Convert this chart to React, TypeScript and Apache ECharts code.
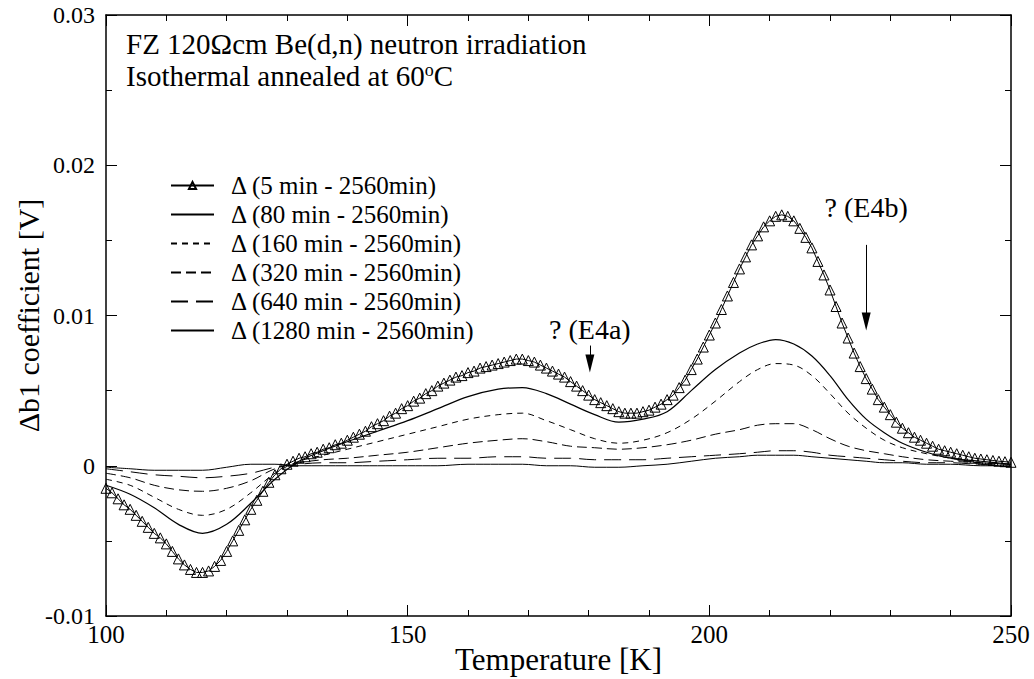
import React, { useEffect, useRef } from "react";
import * as echarts from "echarts";

// Temperature grid of the 5-min curve (triangles), K
const tempsTri = [
  100, 101, 102, 103, 104, 105, 106, 107, 108, 109, 110, 111, 112, 113, 114, 115, 116, 117, 118, 119,
  120, 121, 122, 123, 124, 125, 126, 127, 128, 129, 130, 131, 132, 133, 134, 135, 136, 137, 138, 139,
  140, 141, 142, 143, 144, 145, 146, 147, 148, 149, 150, 151, 152, 153, 154, 155, 156, 157, 158, 159,
  160, 161, 162, 163, 164, 165, 166, 167, 168, 169, 170, 171, 172, 173, 174, 175, 176, 177, 178, 179,
  180, 181, 182, 183, 184, 185, 186, 187, 188, 189, 190, 191, 192, 193, 194, 195, 196, 197, 198, 199,
  200, 201, 202, 203, 204, 205, 206, 207, 208, 209, 210, 211, 212, 213, 214, 215, 216, 217, 218, 219,
  220, 221, 222, 223, 224, 225, 226, 227, 228, 229, 230, 231, 232, 233, 234, 235, 236, 237, 238, 239,
  240, 241, 242, 243, 244, 245, 246, 247, 248, 249, 250,
];
// Δ (5 min - 2560min)
const d5 = [
  -0.0015, -0.0018, -0.0022, -0.0026, -0.0029, -0.0033, -0.0037, -0.0041, -0.0045, -0.0048,
  -0.0052, -0.0057, -0.0062, -0.0066, -0.0069, -0.0071, -0.0071, -0.007, -0.0067, -0.0063,
  -0.0057, -0.005, -0.0043, -0.0036, -0.0029, -0.0023, -0.0017, -0.0011, -0.0006, -0.0002,
  0.0001, 0.0003, 0.0005, 0.0006, 0.0008, 0.0009, 0.0011, 0.0012, 0.0014, 0.0015,
  0.0017, 0.0019, 0.0021, 0.0023, 0.0026, 0.0028, 0.003, 0.0033, 0.0035, 0.0038,
  0.004, 0.0043, 0.0045, 0.0048, 0.005, 0.0053, 0.0055, 0.0057, 0.0059, 0.006,
  0.0062, 0.0063, 0.0065, 0.0066, 0.0067, 0.0068, 0.0069, 0.007, 0.0071, 0.0071,
  0.007, 0.0069, 0.0067, 0.0065, 0.0063, 0.0061, 0.0059, 0.0056, 0.0053, 0.005,
  0.0047, 0.0044, 0.0042, 0.004, 0.0038, 0.0036, 0.0035, 0.0035, 0.0035, 0.0036,
  0.0037, 0.0039, 0.0041, 0.0044, 0.0047, 0.0052, 0.0057, 0.0064, 0.0071, 0.0079,
  0.0087, 0.0095, 0.0104, 0.0113, 0.0122, 0.0131, 0.0139, 0.0147, 0.0153, 0.0159,
  0.0163, 0.0166, 0.0167, 0.0166, 0.0163, 0.0158, 0.0152, 0.0145, 0.0136, 0.0127,
  0.0117, 0.0106, 0.0095, 0.0085, 0.0075, 0.0066, 0.0058, 0.0051, 0.0044, 0.0039,
  0.0034, 0.0029, 0.0025, 0.0022, 0.0019, 0.0017, 0.0015, 0.0013, 0.0011, 0.001,
  0.0009, 0.0008, 0.0007, 0.0006, 0.0005, 0.00045, 0.0004, 0.00035, 0.0003, 0.00027, 0.00023,
];

// Temperature grid of the line curves, K
const tempsLine = [
  100, 104, 108, 112, 116, 120, 124, 128, 132, 136, 140, 145, 150, 155, 160, 165, 169, 173, 177, 181,
  185, 189, 193, 197, 201, 205, 208, 211, 214, 217, 220, 223, 226, 229, 232, 236, 240, 245, 250,
];
const d80 = [
  -0.0013, -0.0019, -0.0028, -0.0039, -0.0045, -0.0039, -0.0025, -0.0009, 0.0003, 0.001,
  0.0016, 0.0023, 0.003, 0.0038, 0.0046, 0.0051, 0.0052, 0.0048, 0.0041, 0.0034,
  0.0029, 0.0031, 0.0036, 0.005, 0.0064, 0.0075, 0.0081, 0.0084, 0.0081, 0.0073,
  0.006, 0.0044, 0.0031, 0.0022, 0.0015, 0.0009, 0.0005, 0.0003, 0.0001,
];
const d160 = [
  -0.0009, -0.0013, -0.0021, -0.0029, -0.0033, -0.0029, -0.0018, -0.0005, 0.0003, 0.0007,
  0.0011, 0.0016, 0.0021, 0.0026, 0.0031, 0.0034, 0.0035, 0.003, 0.0024, 0.0018,
  0.0015, 0.0017, 0.0022, 0.0031, 0.0043, 0.0056, 0.0064, 0.0068, 0.0067, 0.006,
  0.0048, 0.0035, 0.0025, 0.0017, 0.0012, 0.0008, 0.0005, 0.0002, 0.0001,
];
const d320 = [
  -0.0005, -0.0008, -0.0013, -0.0016, -0.0017, -0.0015, -0.001, -0.0002, 0.0002, 0.0004,
  0.0005, 0.0007, 0.0009, 0.0012, 0.0015, 0.0017, 0.0018, 0.0016, 0.0013, 0.0012,
  0.0011, 0.0012, 0.0014, 0.0017, 0.0021, 0.0024, 0.0027, 0.0028, 0.0028, 0.0024,
  0.0018, 0.0013, 0.001, 0.0008, 0.0006, 0.0004, 0.0003, 0.0002, 0.0001,
];
const d640 = [
  -0.0002, -0.0004, -0.0006, -0.0007, -0.0008, -0.0007, -0.0005, -0.0001, 0.0001, 0.0002,
  0.0002, 0.0003, 0.0004, 0.0005, 0.0005, 0.0006, 0.0006, 0.0005, 0.0005, 0.0004,
  0.0004, 0.0004, 0.0005, 0.0006, 0.0007, 0.0008, 0.0009, 0.001, 0.001, 0.0009,
  0.0007, 0.0006, 0.0005, 0.0004, 0.0003, 0.0002, 0.0002, 0.0001, 0.0001,
];
const d1280 = [
  -0.0001, -0.0002, -0.0003, -0.0003, -0.0003, -0.0001, 0.0001, 0.0001, 0.0, 0.0,
  0.0, 0.0, 0.0, 0.0, 0.0001, 0.0001, 0.0001, 0.0, 0.0, -0.0001,
  -0.0001, 0.0, 0.0001, 0.0003, 0.0005, 0.0006, 0.0007, 0.0007, 0.0007, 0.0006,
  0.0005, 0.0004, 0.0003, 0.0002, 0.0002, 0.0001, 0.0001, 0.0, 0.0,
];

const seriesNames = [
  "Δ (5 min - 2560min)",
  "Δ (80 min - 2560min)",
  "Δ (160 min - 2560min)",
  "Δ (320 min - 2560min)",
  "Δ (640 min - 2560min)",
  "Δ (1280 min - 2560min)",
];

// Annotations: [label, temperature, label value, arrow start value, arrow head value]
const annotations: [string, number, number, number, number][] = [
  ["? (E4a)", 180.2, 0.0091, 0.008, 0.0068],
  ["? (E4b)", 226.0, 0.0172, 0.0147, 0.0096],
];

const FONT = "'Liberation Serif', 'Times New Roman', serif";

function pairs(xs: number[], ys: number[]) {
  return xs.map((x, i) => [x, ys[i]]);
}

export default function App() {
  const ref = useRef<HTMLDivElement>(null);
  useEffect(() => {
    if (!ref.current) return;
    const chart = echarts.init(ref.current, undefined, { renderer: "svg" });
    const lineDefs: [number[], any][] = [
      [d80, { type: "solid", width: 1.2 }],
      [d160, { type: [6, 5], width: 1 }],
      [d320, { type: [10, 5], width: 1 }],
      [d640, { type: [17, 8], width: 1 }],
      [d1280, { type: "solid", width: 1 }],
    ];
    const axisLine = { show: true, onZero: false, lineStyle: { color: "#000", width: 1.5 } };
    const tick = { show: true, inside: true, length: 11, lineStyle: { color: "#000", width: 1 } };
    const option: any = {
      animation: false,
      backgroundColor: "#fff",
      textStyle: { fontFamily: FONT },
      grid: { left: 106, right: 23, top: 15, bottom: 63, containLabel: false, outerBoundsMode: "none" },
      xAxis: [
        {
          type: "value",
          min: 100,
          max: 250,
          interval: 50,
          name: "Temperature [K]",
          nameLocation: "middle",
          nameGap: 28,
          nameMoveOverlap: false,
          nameTextStyle: { fontSize: 31, color: "#000", fontFamily: FONT },
          axisLine,
          splitLine: { show: false },
          axisTick: tick,
          minorTick: { show: true, splitNumber: 5, length: 6, lineStyle: { color: "#000", width: 1 } },
          axisLabel: { fontSize: 25, color: "#000", margin: 6, fontFamily: FONT },
        },
        {
          type: "value",
          position: "top",
          min: 100,
          max: 250,
          interval: 50,
          axisLine,
          splitLine: { show: false },
          axisTick: tick,
          minorTick: { show: true, splitNumber: 5, length: 6, lineStyle: { color: "#000", width: 1 } },
          axisLabel: { show: false },
        },
      ],
      yAxis: [
        {
          type: "value",
          min: -0.01,
          max: 0.03,
          interval: 0.01,
          name: "Δb1 coefficient [V]",
          nameLocation: "middle",
          nameGap: 63,
          nameMoveOverlap: false,
          nameTextStyle: { fontSize: 30, color: "#000", fontFamily: FONT },
          axisLine,
          splitLine: { show: false },
          axisTick: tick,
          minorTick: { show: true, splitNumber: 2, length: 6, lineStyle: { color: "#000", width: 1 } },
          axisLabel: {
            fontSize: 24,
            color: "#000",
            margin: 11,
            fontFamily: FONT,
            formatter: (v: number) => (Math.abs(v) < 1e-9 ? "0" : v.toFixed(2)),
          },
        },
        {
          type: "value",
          position: "right",
          min: -0.01,
          max: 0.03,
          interval: 0.01,
          axisLine,
          splitLine: { show: false },
          axisTick: tick,
          minorTick: { show: true, splitNumber: 2, length: 6, lineStyle: { color: "#000", width: 1 } },
          axisLabel: { show: false },
        },
      ],
      legend: {
        orient: "vertical",
        left: 170,
        top: 173,
        padding: 0,
        itemWidth: 43,
        itemHeight: 9,
        itemGap: 4,
        textStyle: { fontSize: 25, color: "#000", fontFamily: FONT, lineHeight: 25, padding: [0, 0, 0, 12] },
        data: seriesNames,
      },
      graphic: [
        {
          type: "text",
          left: 126,
          top: 29,
          style: {
            text: "FZ 120Ωcm Be(d,n) neutron irradiation",
            font: `29px ${FONT}`,
            fill: "#000",
          },
        },
        {
          type: "text",
          left: 126,
          top: 61,
          style: {
            text: "Isothermal annealed at 60{sup|o}C",
            font: `29px ${FONT}`,
            fill: "#000",
            rich: { sup: { fontSize: 18, fontFamily: FONT, verticalAlign: "top", padding: [0, 0, 10, 0] } },
          },
        },
      ],
      series: [
        ...lineDefs.map(([vals, ls], i) => ({
          name: seriesNames[i + 1],
          type: "line",
          data: pairs(tempsLine, vals),
          smooth: 0.35,
          showSymbol: false,
          symbol: "circle",
          lineStyle: { color: "#000", ...ls },
          itemStyle: { color: "rgba(0,0,0,0)", borderWidth: 0 },
          z: 2,
          ...(i === 4
            ? {
                markLine: {
                  silent: true,
                  symbol: ["none", "triangle"],
                  symbolSize: [9, 18],
                  lineStyle: { color: "#000", width: 1, type: "solid" },
                  itemStyle: { color: "#000" },
                  label: { show: false },
                  data: annotations.map(([, t, , v0, v1]) => [{ coord: [t, v0] }, { coord: [t, v1] }]),
                },
                markPoint: {
                  silent: true,
                  symbol: "circle",
                  symbolSize: 1,
                  itemStyle: { color: "rgba(0,0,0,0)" },
                  label: {
                    show: true,
                    position: "inside",
                    color: "#000",
                    fontSize: 28,
                    fontFamily: FONT,
                    formatter: (p: any) => p.name,
                  },
                  data: annotations.map(([name, t, v]) => ({ name, coord: [t, v] })),
                },
              }
            : {}),
        })),
        {
          name: seriesNames[0],
          type: "line",
          data: pairs(tempsTri, d5),
          smooth: false,
          showSymbol: true,
          showAllSymbol: true,
          symbol: "triangle",
          symbolSize: 10,
          lineStyle: { color: "#000", width: 1 },
          itemStyle: { color: "rgba(255,255,255,0)", borderColor: "#000", borderWidth: 1 },
          z: 5,
        },
      ],
    };
    chart.setOption(option);
    return () => chart.dispose();
  }, []);
  return (
    <div
      ref={ref}
      style={{ position: "absolute", left: 0, top: 0, width: 1034, height: 679, background: "#fff" }}
    />
  );
}
